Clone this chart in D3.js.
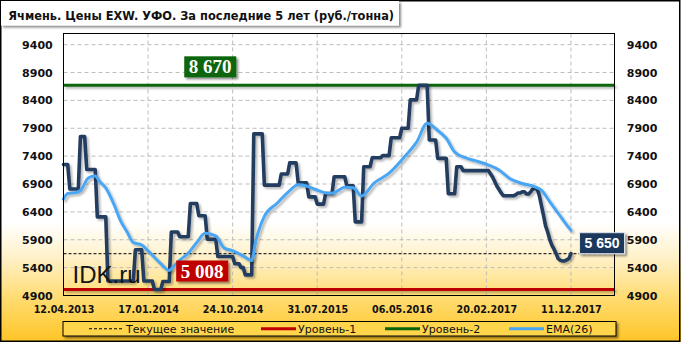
<!DOCTYPE html>
<html><head><meta charset="utf-8">
<script src="https://cdn.jsdelivr.net/npm/d3@7"></script>
<style>
html,body{margin:0;padding:0;background:#fff;}
svg{display:block;}
</style></head><body>
<svg id="chart" width="681" height="342"></svg>
<script>
// ---------- DATA ----------
const title = "Ячмень. Цены EXW. УФО. За последние 5 лет (руб./тонна)";
const xTickLabels = ["12.04.2013","17.01.2014","24.10.2014","31.07.2015","06.05.2016","20.02.2017","11.12.2017"];
const xTickIndex = [0,40,80,120,160,200,240];
const yTicks = [4900,5400,5900,6400,6900,7400,7900,8400,8900,9400];
const prices = [
7250,7250,7250,6810,6810,6810,6810,6810,7750,7750,7750,
7160,7160,7160,7160,7160,6310,6310,6310,6310,6310,
5160,5160,5160,5160,5160,5160,5160,5160,5160,5160,5160,5160,5160,
5720,5720,5720,5720,5160,5160,5160,5160,5160,
5008,5008,5008,5008,5150,5150,5150,5150,
6040,6040,6040,6040,5955,5955,5955,5955,5955,
6550,6550,6550,6550,6330,6330,6330,6330,
5910,5910,5910,5910,5910,5600,5600,5600,5600,5600,5600,5600,5600,
5470,5470,5470,5400,5400,5270,5270,5270,5270,
7800,7800,7800,7800,7800,6880,6880,6880,6880,6880,6880,6880,6880,
7080,7080,7080,7080,7280,7280,7280,7280,
6920,6920,6920,6920,6920,6670,6670,6670,6670,
6540,6540,6540,6540,6730,6730,6730,6730,
7030,7030,7030,7030,7030,7030,6870,6870,6870,6870,
6220,6220,6220,6220,7210,7210,7210,7210,
7370,7370,7370,7370,7370,7410,7410,7410,7410,
7730,7730,7730,7730,7730,7900,7900,7900,7900,
8410,8410,8410,8410,8670,8670,8670,8670,8670,
7690,7690,7690,7690,7360,7360,7360,7360,7360,
6725,6725,6725,6725,7210,7210,7210,
7140,7140,7140,7140,7140,7140,7140,7140,7140,7140,7140,7140,7140,
7080,7020,6940,6860,6800,6740,
6690,6690,6690,6690,6690,6690,
6710,6740,6740,6760,6760,6720,6720,6760,6815,6815,6815,
6700,6520,6340,6150,6040,5900,5800,5730,5650,5560,5530,5520,5520,5540,5560,5650
];
const emaIndex = [0,2,6,9,11,13,15,17,20,24,27,30,33,37,40,43,46,50,52,55,59,63,67,72,76,80,85,89,91,93,95,101,106,111,115,120,125,128,133,137,141,147,154,162,167,172,177,181,185,191,195,201,206,211,217,223,226,230,234,238,240];
const emaValues = [6630,6730,6745,6830,6980,7030,7045,6950,6830,6520,6240,6045,5850,5805,5700,5585,5470,5350,5420,5535,5660,5850,6015,5970,5750,5705,5610,5530,5890,6140,6320,6555,6745,6885,6865,6790,6735,6745,6840,6835,6685,6920,7095,7420,7650,7990,7860,7720,7475,7360,7315,7240,7150,7000,6910,6850,6790,6580,6375,6165,6070];
const level1 = 5008;
const level2 = 8670;
const currentValue = 5650;
const legendLabels = ["Текущее значение","Уровень-1","Уровень-2","EMA(26)"];
const watermark = "IDK.ru";

// ---------- LAYOUT ----------
const W = 681, H = 342;
const P = {left:63.5, right:614.5, top:33.5, bottom:295.5};
const C = {price:"#233c5e", ema:"#4aa6f4", red:"#c00000", green:"#0a650a", navy:"#1c395c", grid:"#bdbdbd"};
const x = d3.scaleLinear().domain([0, 260.6]).range([P.left, P.right]);
const y = d3.scaleLinear().domain([4900, 9600]).range([P.bottom, P.top]);

const svg = d3.select("#chart");
const defs = svg.append("defs");
const bg = defs.append("linearGradient").attr("id","bg").attr("gradientUnits","userSpaceOnUse")
  .attr("x1",0).attr("y1",0).attr("x2",0).attr("y2",H);
[[0,"#ffffff"],[0.65,"#ffffff"],[0.76,"#fff0c4"],[0.87,"#ffdc72"],[1,"#ffc526"]].forEach(s=>
  bg.append("stop").attr("offset",s[0]).attr("stop-color",s[1]));
function shadow(id, dx, dy, sd, op){
  const f = defs.append("filter").attr("id",id).attr("filterUnits","userSpaceOnUse")
    .attr("x",-10).attr("y",-10).attr("width",W+20).attr("height",H+20);
  f.append("feDropShadow").attr("dx",dx).attr("dy",dy).attr("stdDeviation",sd)
    .attr("flood-color","#000").attr("flood-opacity",op);
}
shadow("sh",2,2,1,0.28);
shadow("shBox",2,2,1.2,0.45);

svg.append("rect").attr("width",W).attr("height",H).attr("fill","url(#bg)");
svg.append("rect").attr("x",0.75).attr("y",0.75).attr("width",W-2).attr("height",H-1.5)
  .attr("fill","none").attr("stroke","#000").attr("stroke-width",1.5);

// title
svg.append("rect").attr("x",1).attr("y",1).attr("width",398).attr("height",24.5)
  .attr("fill","#fff").attr("filter","url(#shBox)");
svg.append("text").attr("x",8.3).attr("y",19.5).text(title)
  .style("font-family","'DejaVu Sans'").style("font-weight","bold").style("font-size","11.4px").attr("fill","#111");

// grid
const g = svg.append("g");
g.selectAll("line.hg").data(yTicks.filter(v=>v>4900)).join("line")
  .attr("x1",P.left).attr("x2",P.right).attr("y1",d=>y(d)).attr("y2",d=>y(d))
  .attr("stroke",C.grid).attr("stroke-dasharray","4,3");
g.selectAll("line.vg").data(xTickIndex.filter(v=>v>0)).join("line")
  .attr("y1",P.top).attr("y2",P.bottom).attr("x1",d=>x(d)).attr("x2",d=>x(d))
  .attr("stroke",C.grid).attr("stroke-dasharray","4,3");

// level lines
[[level1,C.red],[level2,C.green]].forEach(([v,c])=>{
  svg.append("line").attr("x1",P.left).attr("x2",P.right).attr("y1",y(v)).attr("y2",y(v))
    .attr("stroke",c).attr("stroke-width",3).attr("filter","url(#sh)");
});
// current value
svg.append("line").attr("x1",P.left).attr("x2",P.right).attr("y1",y(currentValue)).attr("y2",y(currentValue))
  .attr("stroke","#000").attr("stroke-width",1).attr("stroke-dasharray","3,2");

// price line
const lineP = d3.line().x((d,i)=>x(i)).y(d=>y(d));
svg.append("path").datum(prices).attr("d",lineP).attr("fill","none").attr("stroke",C.price)
  .attr("stroke-width",3.6).attr("stroke-linejoin","round").attr("stroke-linecap","round").attr("filter","url(#sh)");
// EMA
const emaPts = emaIndex.map((d,i)=>[d,emaValues[i]]);
const lineE = d3.line().x(d=>x(d[0])).y(d=>y(d[1])).curve(d3.curveMonotoneX);
svg.append("path").datum(emaPts).attr("d",lineE).attr("fill","none").attr("stroke",C.ema)
  .attr("stroke-width",3).attr("stroke-linejoin","round").attr("stroke-linecap","round").attr("filter","url(#sh)");

// frame
svg.append("rect").attr("x",P.left).attr("y",P.top).attr("width",P.right-P.left).attr("height",P.bottom-P.top)
  .attr("fill","none").attr("stroke","#000").attr("stroke-width",1);

// axes
function styleAxis(sel, size){
  sel.select(".domain").remove();
  sel.selectAll("text").style("font-family","'DejaVu Sans'").style("font-weight","bold")
    .style("font-size",size).attr("fill","#111");
}
svg.append("g").attr("transform",`translate(${P.left},0)`)
  .call(d3.axisLeft(y).tickValues(yTicks).tickSize(0).tickPadding(10.8).tickFormat(d3.format("d")))
  .call(s=>styleAxis(s,"11px"));
svg.append("g").attr("transform",`translate(${P.right},0)`)
  .call(d3.axisRight(y).tickValues(yTicks).tickSize(0).tickPadding(12.3).tickFormat(d3.format("d")))
  .call(s=>styleAxis(s,"11px"));
svg.append("g").attr("transform",`translate(0,${P.bottom})`)
  .call(d3.axisBottom(x).tickValues(xTickIndex).tickSize(0).tickPadding(11).tickFormat((d,i)=>xTickLabels[i]))
  .call(s=>styleAxis(s,"9.6px"));

// value labels
function valueBox(cx, bottom, w, h, fill, txt, font, fs, stroke){
  const gg = svg.append("g");
  gg.append("rect").attr("x",cx-w/2).attr("y",bottom-h).attr("width",w).attr("height",h)
    .attr("fill",fill).attr("stroke",stroke||"none").attr("stroke-width",1).attr("filter","url(#shBox)");
  gg.append("text").attr("x",cx).attr("y",bottom-h/2).attr("dy","0.35em").attr("text-anchor","middle")
    .text(txt).style("font-family",font).style("font-weight","bold").style("font-size",fs).attr("fill","#fff");
}
const fmt = v => d3.format(",")(v).replace(/,/g," ");
valueBox(x(69.4), y(level2)-8, 52, 21, C.green, fmt(level2), "'Liberation Serif'", "19px");
valueBox(x(65.6), y(level1)-8, 52, 21, C.red, fmt(level1), "'Liberation Serif'", "19px");
valueBox(x(prices.length-1)+8.6+22.5, y(currentValue), 45, 21, C.navy, fmt(currentValue), "'Liberation Sans'", "14px", "#dfe6ee");

// watermark
svg.append("text").attr("x",72.5).attr("y",282.5).text(watermark)
  .style("font-family","'Liberation Sans'").style("font-size","24px").attr("fill","#151515");

// legend
svg.append("rect").attr("x",63).attr("y",321.5).attr("width",553).attr("height",14.5)
  .attr("fill","#ffd54c").attr("stroke","#000").attr("stroke-width",1).attr("filter","url(#shBox)");
const ly = 328.75;
const legendItems = [
  {x1:89,x2:122,tx:126,color:"#000",w:1,dash:"3,2"},
  {x1:261,x2:296,tx:298,color:C.red,w:3},
  {x1:385,x2:420,tx:422,color:C.green,w:3},
  {x1:509,x2:544,tx:546,color:C.ema,w:3}
];
legendItems.forEach((it,i)=>{
  svg.append("line").attr("x1",it.x1).attr("x2",it.x2).attr("y1",ly).attr("y2",ly)
    .attr("stroke",it.color).attr("stroke-width",it.w).attr("stroke-dasharray",it.dash||null);
  svg.append("text").attr("x",it.tx).attr("y",ly+4.1).text(legendLabels[i])
    .style("font-family","'DejaVu Sans'").style("font-size","11px").attr("fill","#111");
});
</script>
</body></html>
